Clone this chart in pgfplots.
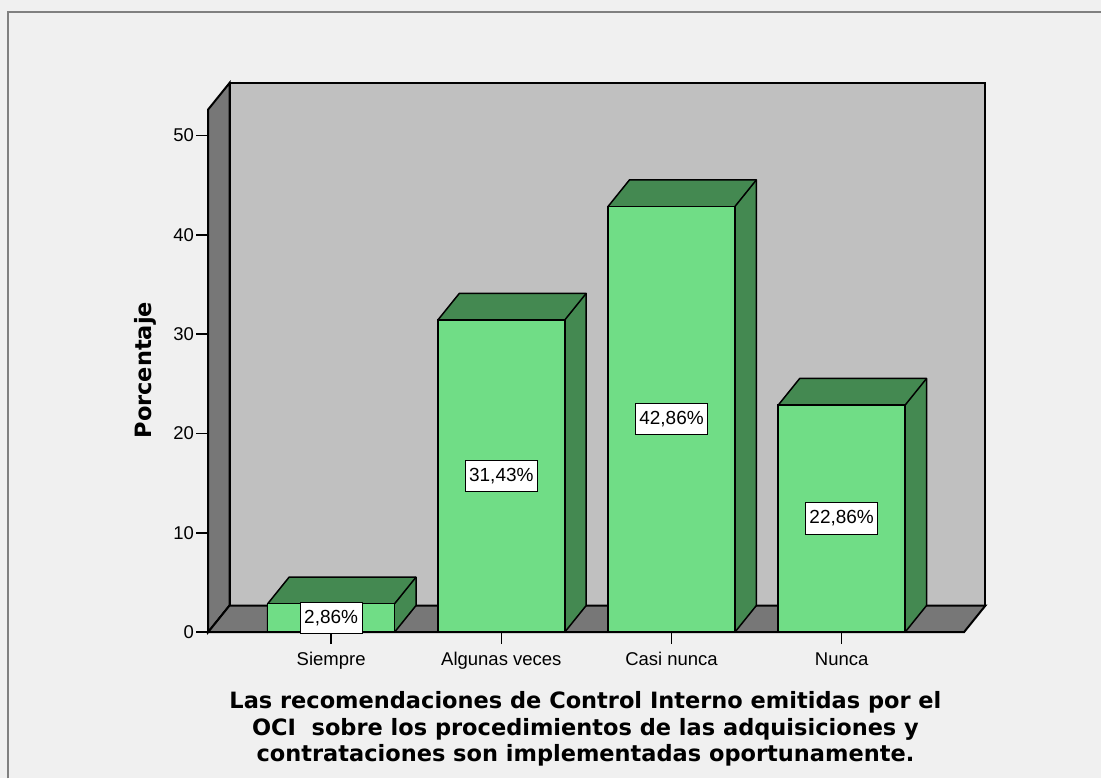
\documentclass[border=0pt]{standalone}
\usepackage{fontspec}
\setmainfont{Liberation Sans}
\newfontfamily\dvs{DejaVu Sans}
\usepackage{pgfplots}
\pgfplotsset{compat=1.18}
\definecolor{bg}{RGB}{240,240,240}
\definecolor{frontg}{RGB}{112,221,134}
\definecolor{darkg}{RGB}{68,137,81}
\definecolor{wallgray}{RGB}{119,119,119}
\definecolor{backgray}{RGB}{192,192,192}
\definecolor{framegray}{RGB}{128,128,128}
\begin{document}
\begin{tikzpicture}
\fill[bg] (-208.3pt,-146.3pt) rectangle (893.7pt,632.7pt);
\draw[framegray, line width=2pt] (-200.3pt,-146.3pt) -- (-200.3pt,620.7pt) -- (893.7pt,620.7pt);
\begin{axis}[
  x=170.33pt, y=9.94pt,
  xmin=-0.723, xmax=3.845, ymin=0, ymax=55.3,
  axis lines*=left,
  axis line style={draw=none},
  clip=false,
  no markers,
  xtick={0,1,2,3},
  xticklabels={Siempre, Algunas veces, Casi nunca, Nunca},
  ytick={0,10,20,30,40,50},
  tick align=outside,
  major tick length=12pt,
  tick style={black, line width=1.5pt},
  ticklabel style={font=\fontsize{18.5}{21}\selectfont, inner sep=2pt},
  xticklabel style={yshift=-6pt},
  /pgf/number format/assume math mode=true,
  xlabel={Las recomendaciones de Control Interno emitidas por el\\OCI\ \ sobre los procedimientos de las adquisiciones y\\contrataciones son implementadas oportunamente.},
  xlabel style={at={(axis description cs:0.4854,-0.1082)}, anchor=north, inner sep=0pt, align=center, font=\dvs\bfseries\fontsize{22.5}{26.5}\selectfont},
  ylabel={Porcentaje},
  ylabel style={at={(axis description cs:-0.0727,0.477)}, anchor=base, inner sep=0pt, font=\dvs\bfseries\fontsize{22.5}{26.5}\selectfont},
]
% walls
\addplot[fill=backgray, draw=black, line width=2pt] coordinates {(-0.597,2.68) (3.845,2.68) (3.845,55.3) (-0.597,55.3)} -- cycle;
\addplot[fill=wallgray, draw=black, line width=2pt] coordinates {(-0.723,0) (-0.597,2.68) (-0.597,55.3) (-0.723,52.62)} -- cycle;
\addplot[fill=wallgray, draw=black, line width=2pt] coordinates {(-0.723,0) (3.719,0) (3.845,2.68) (-0.597,2.68)} -- cycle;
% bar 1: Siempre 2.86
\addplot[fill=darkg, draw=black, line width=1.5pt, line join=round] coordinates {(-0.3728,0) (0.3728,0) (0.4988,2.68) (0.4988,5.54) (-0.2468,5.54) (-0.3728,2.86)} -- cycle;
\addplot[fill=frontg, draw=black, line width=1.5pt] coordinates {(-0.3728,0) (0.3728,0) (0.3728,2.86) (-0.3728,2.86)} -- cycle;
\addplot[draw=black, line width=1.5pt] coordinates {(0.3728,2.86) (0.4988,5.54)};
% bar 2: Algunas veces 31.43
\addplot[fill=darkg, draw=black, line width=1.5pt, line join=round] coordinates {(0.6272,0) (1.3728,0) (1.4988,2.68) (1.4988,34.11) (0.7532,34.11) (0.6272,31.43)} -- cycle;
\addplot[fill=frontg, draw=black, line width=1.5pt] coordinates {(0.6272,0) (1.3728,0) (1.3728,31.43) (0.6272,31.43)} -- cycle;
\addplot[draw=black, line width=1.5pt] coordinates {(1.3728,31.43) (1.4988,34.11)};
% bar 3: Casi nunca 42.86
\addplot[fill=darkg, draw=black, line width=1.5pt, line join=round] coordinates {(1.6272,0) (2.3728,0) (2.4988,2.68) (2.4988,45.54) (1.7532,45.54) (1.6272,42.86)} -- cycle;
\addplot[fill=frontg, draw=black, line width=1.5pt] coordinates {(1.6272,0) (2.3728,0) (2.3728,42.86) (1.6272,42.86)} -- cycle;
\addplot[draw=black, line width=1.5pt] coordinates {(2.3728,42.86) (2.4988,45.54)};
% bar 4: Nunca 22.86
\addplot[fill=darkg, draw=black, line width=1.5pt, line join=round] coordinates {(2.6272,0) (3.3728,0) (3.4988,2.68) (3.4988,25.54) (2.7532,25.54) (2.6272,22.86)} -- cycle;
\addplot[fill=frontg, draw=black, line width=1.5pt] coordinates {(2.6272,0) (3.3728,0) (3.3728,22.86) (2.6272,22.86)} -- cycle;
\addplot[draw=black, line width=1.5pt] coordinates {(3.3728,22.86) (3.4988,25.54)};
% value labels
\addplot[draw=none, nodes near coords, point meta=explicit symbolic,
  nodes near coords style={anchor=center, fill=white, draw=black, line width=1pt, inner xsep=4pt, inner ysep=7pt, text height=13.8pt, text depth=3.5pt, font=\fontsize{19}{22}\selectfont}]
  coordinates {(0,1.43) [{2,86\%}] (1,15.715) [{31,43\%}] (2,21.43) [{42,86\%}] (3,11.43) [{22,86\%}]};
\end{axis}
\end{tikzpicture}
\end{document}
